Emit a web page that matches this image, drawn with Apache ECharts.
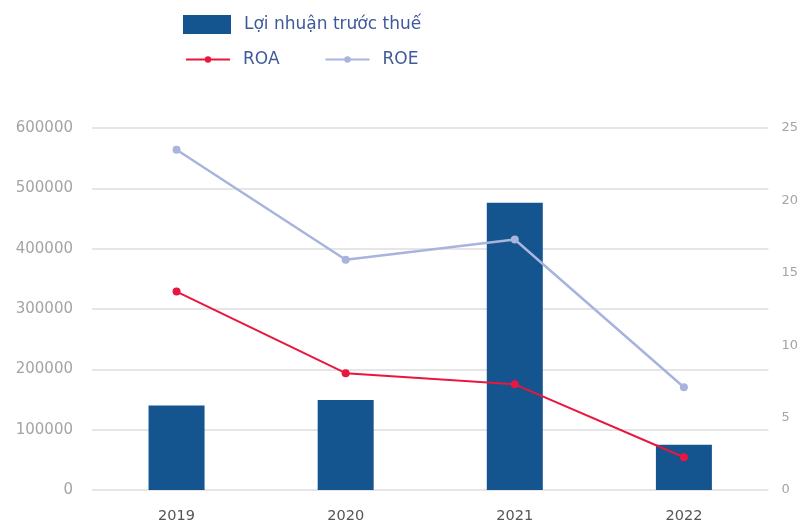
<!DOCTYPE html>
<html><head><meta charset="utf-8">
<script src="https://cdn.jsdelivr.net/npm/echarts@6/dist/echarts.min.js"></script>
<style>html,body{margin:0;padding:0;background:#fff}#c{width:801px;height:524px}</style>
</head><body><div id="c"></div>
<script>
const categories = ['2019', '2020', '2021', '2022'];
const profit = [140000, 149000, 476000, 75000];
const roa = [13.7, 8.07, 7.3, 2.26];
const roe = [23.5, 15.9, 17.3, 7.1];
const leftTicks = [0, 100000, 200000, 300000, 400000, 500000, 600000];
const rightTicks = [0, 5, 10, 15, 20, 25];

const chart = echarts.init(document.getElementById('c'), null, {renderer: 'canvas'});
const font = '"DejaVu Sans", sans-serif';
const legendText = {color: '#3f5a9a', fontSize: 17, fontFamily: font, padding: [0, 0, 0, 8]};
chart.setOption({
  animation: false,
  textStyle: {fontFamily: font},
  legend: [
    {data: [{name: 'Lợi nhuận trước thuế', icon: 'rect'}], left: 183, top: 15, padding: 0,
     itemWidth: 48, itemHeight: 19, textStyle: legendText},
    {data: ['ROA', 'ROE'], left: 185, top: 51, padding: 0, itemWidth: 44, itemHeight: 8, itemGap: 45,
     textStyle: legendText}
  ],
  grid: {left: 92, right: 31, top: 128, bottom: 34, containLabel: false},
  xAxis: {
    type: 'category', data: categories,
    axisLine: {show: false}, axisTick: {show: false},
    axisLabel: {color: '#555', fontSize: 14.5, margin: 19, fontFamily: font}
  },
  yAxis: [
    {type: 'value', min: leftTicks[0], max: leftTicks[leftTicks.length - 1], interval: 100000,
     axisLine: {show: false}, axisTick: {show: false},
     axisLabel: {color: '#a4a4a4', fontSize: 15, margin: 19, fontFamily: font, formatter: v => String(v)},
     splitLine: {lineStyle: {color: '#e6e6e6', width: 2}}},
    {type: 'value', min: rightTicks[0], max: rightTicks[rightTicks.length - 1], interval: 5,
     axisLine: {show: false}, axisTick: {show: false},
     axisLabel: {color: '#a4a4a4', fontSize: 13, margin: 13, fontFamily: font},
     splitLine: {show: false}}
  ],
  series: [
    {name: 'Lợi nhuận trước thuế', type: 'bar', data: profit, barWidth: 56,
     itemStyle: {color: '#14548f'}},
    {name: 'ROA', type: 'line', yAxisIndex: 1, data: roa, symbol: 'circle', symbolSize: 8,
     lineStyle: {color: '#e8173f', width: 2}, itemStyle: {color: '#e8173f'}},
    {name: 'ROE', type: 'line', yAxisIndex: 1, data: roe, symbol: 'circle', symbolSize: 8,
     lineStyle: {color: '#a8b4dd', width: 2.5}, itemStyle: {color: '#a8b4dd'}}
  ]
});
</script></body></html>
